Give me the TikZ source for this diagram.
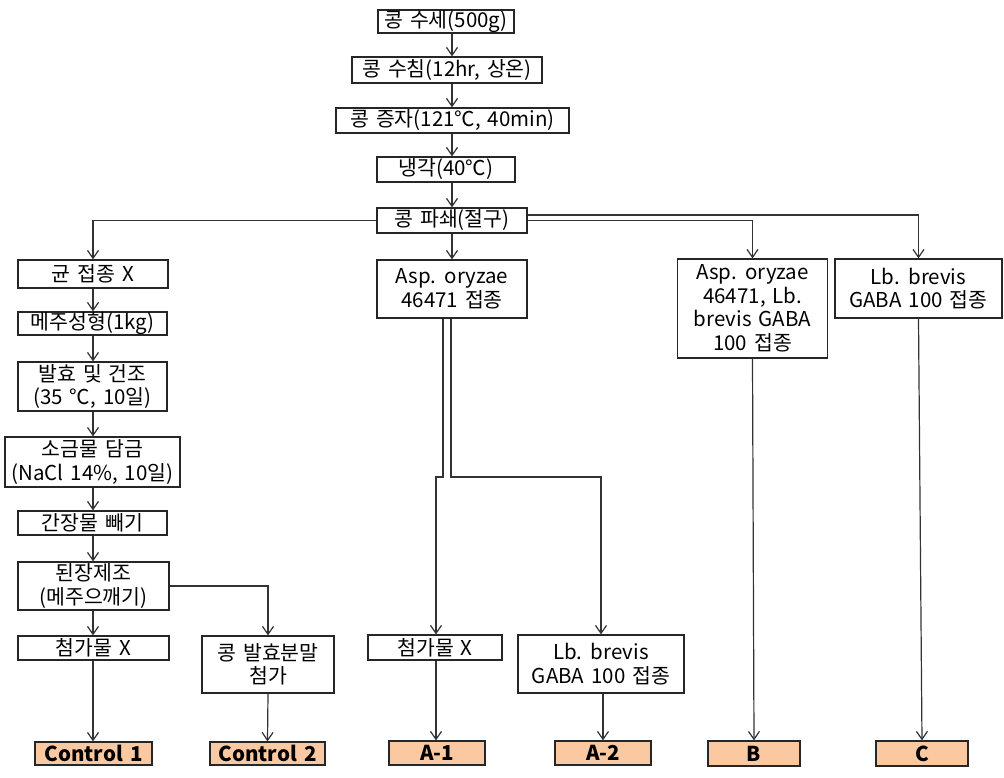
\documentclass[tikz,border=0pt]{standalone}
\usepackage{fontspec}
\setmainfont{Noto Sans CJK KR}[WordSpace=1.5]
\usetikzlibrary{arrows.meta}
\definecolor{lab}{HTML}{FAC9A2}
\tikzset{
 box/.style={draw=black!85, line width=1.2pt, fill=white, align=center, inner sep=0pt, font=\fontsize{20.5}{23.5}\selectfont},
 res/.style={draw=black!85, line width=1.2pt, fill=lab, inner sep=0pt, font=\fontsize{20.5}{23}\selectfont\bfseries},
 arr/.style={draw=black!80, line width=1.2pt, -{Straight Barb[length=8pt,width=11pt]}},
}
\begin{document}
\begin{tikzpicture}[x=1pt,y=-1pt]
\fill[white] (0,0) rectangle (1004,777);
\useasboundingbox (0,0) rectangle (1004,777);
% main chain
\node[box, minimum width=136pt, minimum height=23pt] (s1) at (446,21.5) {콩 수세(500g)};
\node[box, minimum width=190pt, minimum height=26pt] (s2) at (447,70) {콩 수침(12hr, 상온)};
\node[box, minimum width=233pt, minimum height=25pt] (s3) at (452.5,120.5) {콩 증자(121℃, 40min)};
\node[box, minimum width=138pt, minimum height=25pt] (s4) at (446,169.5) {냉각(40℃)};
\node[box, minimum width=150pt, minimum height=25pt] (s5) at (452,220.5) {콩 파쇄(절구)};
% left column
\node[box, minimum width=150pt, minimum height=28pt] (L1) at (93,274) {균 접종 X};
\node[box, minimum width=149pt, minimum height=23pt] (L2) at (92.5,323.5) {메주성형(1kg)};
\node[box, minimum width=149pt, minimum height=49pt] (L3) at (92.5,386.5) {발효 및 건조\\(35 ℃, 10일)};
\node[box, minimum width=175pt, minimum height=50pt] (L4) at (92.5,462) {소금물 담금\\(NaCl 14\%, 10일)};
\node[box, minimum width=149pt, minimum height=24pt] (L5) at (92.5,523) {간장물 빼기};
\node[box, minimum width=151pt, minimum height=48pt] (L6) at (93.5,586) {된장제조\\(메주으깨기)};
\node[box, minimum width=151pt, minimum height=24pt] (L7) at (93.5,648) {첨가물 X};
\node[box, minimum width=132pt, minimum height=57pt] (L8) at (268,664.5) {콩 발효분말\\첨가};
\node[res, minimum width=117pt, minimum height=23pt] (c1) at (93.5,753.5) {Control 1};
\node[res, minimum width=115pt, minimum height=23pt] (c2) at (267.5,753.5) {Control 2};
% middle
\node[box, minimum width=150pt, minimum height=58pt] (M1) at (452,289) {Asp. oryzae\\46471 접종};
\node[box, minimum width=134pt, minimum height=25pt] (M2) at (435,647.5) {첨가물 X};
\node[box, minimum width=166pt, minimum height=58pt] (M3) at (601,664) {Lb. brevis\\GABA 100 접종};
\node[res, minimum width=96pt, minimum height=24pt] (a1) at (437,753) {A-1};
\node[res, minimum width=96pt, minimum height=24pt] (a2) at (603,753) {A-2};
% right
\node[box, minimum width=150pt, minimum height=99pt] (R1) at (752.5,308.5) {Asp. oryzae\\46471, Lb.\\brevis GABA\\100 접종};
\node[box, minimum width=167pt, minimum height=59pt] (R2) at (918.5,288.5) {Lb. brevis\\GABA 100 접종};
\node[res, minimum width=92pt, minimum height=25pt] (b) at (754,753.5) {B};
\node[res, minimum width=92pt, minimum height=25pt] (c) at (922,753.5) {C};
% connectors main chain
\draw[arr] (s1.south -| s5) -- (s2.north -| s5);
\draw[arr] (s2.south -| s5) -- (s3.north -| s5);
\draw[arr] (s3.south -| s5) -- (s4.north -| s5);
\draw[arr] (s4.south -| s5) -- (s5.north);
\draw[arr] (s5.west) -| (L1.north);
\draw[arr] (s5.south) -- (M1.north);
\draw[arr] ([yshift=5.5pt]s5.east) -| (R2.north);
\draw[arr] (s5.east) -| (R1.north);
% left chain
\draw[arr] (L1.south) -- (L2.north -| L1);
\draw[arr] (L2.south -| L1) -- (L3.north -| L1);
\draw[arr] (L3.south -| L1) -- (L4.north -| L1);
\draw[arr] (L4.south -| L1) -- (L5.north -| L1);
\draw[arr] (L5.south -| L1) -- (L6.north -| L1);
\draw[arr] (L6.south -| L1) -- (L7.north -| L1);
\draw[arr] (L7.south -| L1) -- (c1.north -| L1);
\draw[arr] (L6.east) -| (L8.north);
\draw[arr] (L8.south) -- (c2.north);
% middle split
\coordinate (j) at (0,477);
\draw[arr] ([xshift=-9pt]M1.south) -- ([xshift=-9pt]M1.south |- j) -| ([xshift=1pt]M2.north);
\draw[arr] ([xshift=-1pt]M1.south) -- ([xshift=-1pt]M1.south |- j) -| (M3.north);
\draw[arr] ([xshift=1pt]M2.south) -- ([xshift=1pt]M2.south |- a1.north);
\draw[arr] ([xshift=2pt]M3.south) -- ([xshift=2pt]M3.south |- a2.north);
% right
\draw[arr] (R1.south) -- (b.north);
\draw[arr] (R2.south) -- (c.north);
\end{tikzpicture}
\end{document}
